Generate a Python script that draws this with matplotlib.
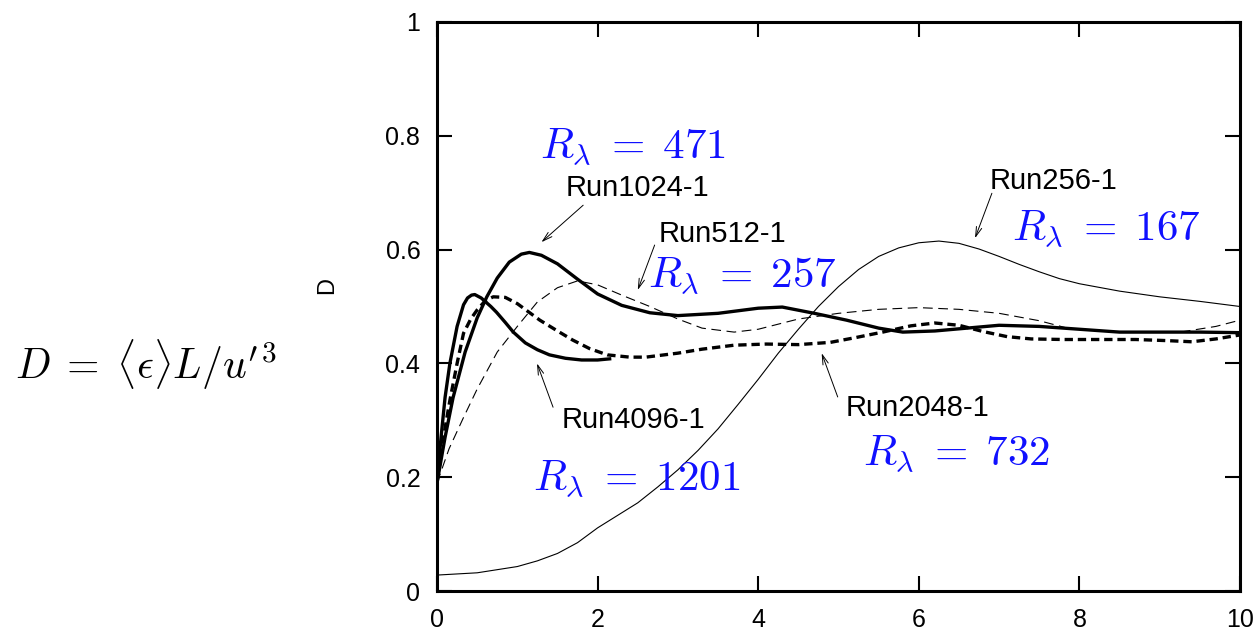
import matplotlib
matplotlib.use("Agg")
import matplotlib.pyplot as plt

plt.rcParams['font.family'] = ['Liberation Sans', 'DejaVu Sans']
plt.rcParams['mathtext.fontset'] = 'cm'
plt.rcParams['lines.scale_dashes'] = False

# ---------------------------------------------------------------------------
# data
# ---------------------------------------------------------------------------
x256 = [0, 0.5, 1.0, 1.25, 1.5, 1.75, 2.0, 2.25, 2.5, 2.75, 3.0, 3.25, 3.5,
        3.75, 4.0, 4.25, 4.5, 4.75, 5.0, 5.25, 5.5, 5.75, 6.0, 6.25, 6.5,
        6.75, 7.0, 7.25, 7.5, 7.75, 8.0, 8.5, 9.0, 9.5, 10]
y256 = [0.028, 0.032, 0.043, 0.053, 0.066, 0.085, 0.111, 0.133, 0.155,
        0.183, 0.213, 0.247, 0.285, 0.328, 0.372, 0.418, 0.46, 0.50, 0.535,
        0.565, 0.588, 0.603, 0.612, 0.615, 0.611, 0.601, 0.588, 0.574,
        0.561, 0.549, 0.54, 0.527, 0.517, 0.509, 0.50]

x512 = [0, 0.15, 0.33, 0.5, 0.75, 1.0, 1.25, 1.5, 1.75, 2.0, 2.3, 2.65,
        3.0, 3.3, 3.7, 4.0, 4.5, 5.0, 5.5, 6.0, 6.5, 7.0, 7.5, 7.85, 8.3,
        8.7, 9.3, 9.7, 10]
y512 = [0.19, 0.25, 0.305, 0.355, 0.42, 0.465, 0.508, 0.533, 0.545, 0.538,
        0.52, 0.50, 0.478, 0.462, 0.455, 0.46, 0.478, 0.488, 0.495, 0.498,
        0.495, 0.488, 0.475, 0.462, 0.457, 0.455, 0.456, 0.465, 0.476]

x1024 = [0, 0.1, 0.2, 0.35, 0.5, 0.62, 0.75, 0.9, 1.05, 1.15, 1.3, 1.5,
         1.75, 2.0, 2.3, 2.65, 3.0, 3.5, 4.0, 4.3, 4.7, 5.1, 5.5, 5.8, 6.2,
         6.6, 7.0, 7.5, 8.0, 8.5, 9.0, 9.5, 10]
y1024 = [0.19, 0.27, 0.34, 0.42, 0.48, 0.517, 0.55, 0.578, 0.592, 0.595,
         0.59, 0.575, 0.548, 0.522, 0.502, 0.489, 0.484, 0.488, 0.497,
         0.499, 0.488, 0.476, 0.462, 0.455, 0.457, 0.462, 0.467, 0.465,
         0.46, 0.455, 0.455, 0.455, 0.454]

x2048 = [0, 0.08, 0.16, 0.25, 0.33, 0.42, 0.5, 0.6, 0.7, 0.85, 1.0, 1.28,
         1.5, 1.69, 1.9, 2.12, 2.4, 2.6, 3.0, 3.3, 3.7, 4.1, 4.5, 4.9, 5.2,
         5.55, 5.9, 6.2, 6.5, 6.8, 7.1, 7.4, 7.8, 8.2, 8.7, 9.1, 9.4, 9.7,
         10]
y2048 = [0.19, 0.27, 0.335, 0.40, 0.453, 0.478, 0.494, 0.51, 0.517, 0.516,
         0.505, 0.476, 0.457, 0.441, 0.426, 0.415, 0.411, 0.411, 0.418,
         0.425, 0.432, 0.434, 0.433, 0.437, 0.445, 0.455, 0.466, 0.471,
         0.467, 0.456, 0.447, 0.443, 0.442, 0.442, 0.442, 0.44, 0.438,
         0.443, 0.45]

x4096 = [0, 0.05, 0.1, 0.16, 0.25, 0.33, 0.38, 0.43, 0.47, 0.55, 0.67,
         0.74, 0.85, 0.95, 1.1, 1.25, 1.4, 1.6, 1.8, 2.0, 2.15]
y4096 = [0.19, 0.27, 0.34, 0.40, 0.465, 0.503, 0.515, 0.52, 0.521, 0.515,
         0.5, 0.49, 0.472, 0.455, 0.436, 0.424, 0.415, 0.409, 0.406, 0.406,
         0.408]

# run labels: (text, text centre, arrow tail, arrow tip)
run_labels = ["Run1024-1", "Run512-1", "Run256-1", "Run4096-1", "Run2048-1"]
run_text_xy = [(2.49, 0.708), (3.55, 0.627), (7.68, 0.72), (2.44, 0.30), (5.98, 0.322)]
run_tail_xy = [(1.82, 0.678), (2.71, 0.608), (6.91, 0.699), (1.445, 0.323), (4.99, 0.341)]
run_tip_xy = [(1.30, 0.613), (2.50, 0.529), (6.70, 0.620), (1.245, 0.40), (4.79, 0.418)]

# Reynolds numbers in blue (left edge, baseline)
re_values = ["471", "257", "167", "1201", "732"]
re_xy = [(1.28, 0.761), (2.63, 0.534), (7.16, 0.617), (1.20, 0.178), (5.31, 0.221)]

xticks = [0, 2, 4, 6, 8, 10]
yticks = [0, 0.2, 0.4, 0.6, 0.8, 1]
ytick_labels = ["0", "0.2", "0.4", "0.6", "0.8", "1"]

# ---------------------------------------------------------------------------
fig = plt.figure(figsize=(12.58, 6.39), dpi=100)
ax = fig.add_axes([0.3474, 0.0751, 0.6383, 0.8905])

ax.plot(x256, y256, color="black", lw=0.8)
ax.plot(x512, y512, color="black", lw=0.8, dashes=(7, 4))
ax.plot(x1024, y1024, color="black", lw=2.4)
ax.plot(x2048, y2048, color="black", lw=2.4, dashes=(6, 3.5))
ax.plot(x4096, y4096, color="black", lw=2.4)

for lab, txy, tail, tip in zip(run_labels, run_text_xy, run_tail_xy, run_tip_xy):
    ax.text(txy[0], txy[1], lab, fontsize=21, ha="center", va="center")
    ax.annotate("", xy=tip, xytext=tail,
                arrowprops=dict(arrowstyle="->,head_length=0.7,head_width=0.2",
                                lw=0.7, color="black", shrinkA=0, shrinkB=0))

for val, (xx, yy) in zip(re_values, re_xy):
    ax.text(xx, yy, r"$R_\lambda \;=\; %s$" % val, color="#1010ff", fontsize=31,
            ha="left", va="baseline")

ax.set_xlim(0, 10)
ax.set_ylim(0, 1)
ax.set_xticks(xticks)
ax.set_yticks(yticks)
ax.set_yticklabels(ytick_labels)
ax.tick_params(direction="in", length=11, width=1.5, top=True, right=True,
               labelsize=18, pad=12)
for sp in ax.spines.values():
    sp.set_linewidth(2.2)

fig.text(327 / 1258, 1 - 285 / 639, "D", rotation=90, fontsize=17,
         ha="center", va="center")
fig.text(15 / 1258, 1 - 365 / 639, r"$D \;=\; \langle\epsilon\rangle L/u'^3$",
         fontsize=30, ha="left", va="center")

plt.savefig("out.png", dpi=100)
